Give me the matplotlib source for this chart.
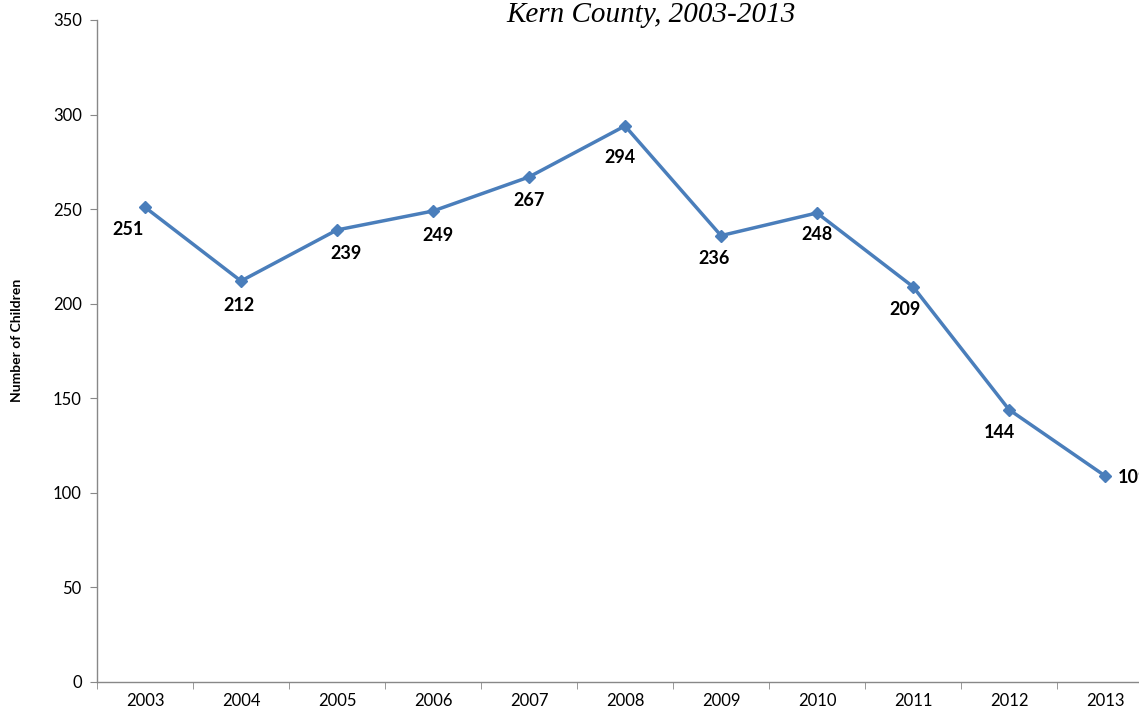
import matplotlib
matplotlib.use("Agg")
import matplotlib.pyplot as plt

# Kern County children counts by year
years = ["2003", "2004", "2005", "2006", "2007", "2008", "2009", "2010", "2011", "2012", "2013"]
children = [251, 212, 239, 249, 267, 294, 236, 248, 209, 144, 109]

# label offsets in pixels (dx, dy below the point)
lbl_dx = [-17, -2, 9, 5, 0, -5, -7, 0, -8, -10, 13]
lbl_dy = [-22, -24, -24, -24, -24, -32, -23, -22, -23, -23, -2]

W, H = 1139, 713
fig = plt.figure(figsize=(W / 100, H / 100), dpi=100)
ax = fig.add_axes([97 / W, (H - 682) / H, (1153 - 97) / W, (682 - 20) / H])

line_col = "#4A7EBB"
xs = list(range(len(years)))
ax.plot(xs, children, color=line_col, lw=2.5, marker="D", ms=6.5,
        markerfacecolor=line_col, markeredgecolor=line_col, clip_on=False)

for i, v in enumerate(children):
    ha = "left" if i == len(children) - 1 else "center"
    ax.annotate(str(v), (i, v), xytext=(lbl_dx[i] * 0.72, lbl_dy[i] * 0.72),
                textcoords="offset points", ha=ha, va="center",
                fontsize=13, fontweight="bold", family="Lato", annotation_clip=False)

ax.set_xlim(-0.5, len(years) - 0.5)
ax.set_ylim(0, 350)
ax.set_yticks(range(0, 351, 50))
ax.set_xticks(xs)
ax.set_xticklabels(years)
ax.set_xticks([i - 0.5 for i in range(len(years) + 1)], minor=True)
ax.tick_params(axis="x", which="major", length=0, pad=8)
ax.tick_params(axis="x", which="minor", length=5, color="#888888")
ax.tick_params(axis="y", length=5, color="#888888", pad=6)
for t in ax.get_xticklabels() + ax.get_yticklabels():
    t.set_family("Lato")
    t.set_fontsize(12)

for s in ["top", "right"]:
    ax.spines[s].set_visible(False)
for s in ["left", "bottom"]:
    ax.spines[s].set_color("#888888")
    ax.spines[s].set_linewidth(1.0)

fig.text(17 / W, 1 - 340 / H, "Number of Children", rotation=90, ha="center", va="center",
         fontsize=10, fontweight="bold", family="Lato")
fig.text(651 / W, 1 - 15 / H, "Kern County, 2003-2013", ha="center", va="center",
         fontsize=21, style="italic", family="Liberation Serif")

fig.savefig("out.png", dpi=100)
